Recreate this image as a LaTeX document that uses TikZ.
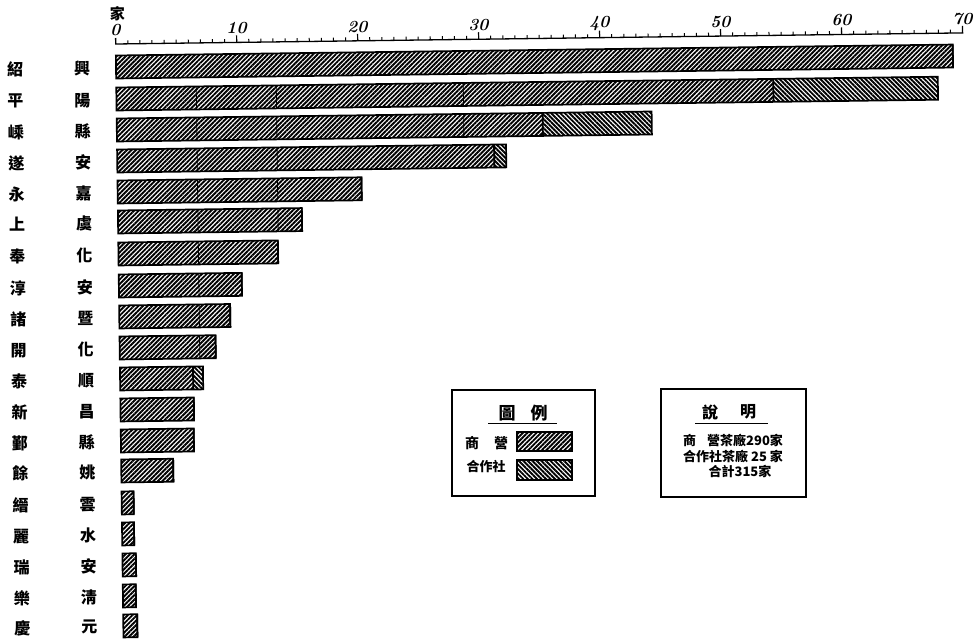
\documentclass[tikz,border=0pt]{standalone}
\usepackage{fontspec}
\newfontfamily\cjk{Noto Sans CJK TC}
\usetikzlibrary{patterns.meta}
\begin{document}
\begin{tikzpicture}[x=1pt,y=-1pt,
  com/.style={pattern={Lines[angle=45,distance=3.2pt,line width=1.9pt]}},
  coop/.style={pattern={Lines[angle=-45,distance=3.2pt,line width=1.9pt]}},
  barline/.style={line width=1.7pt},
  guide/.style={line width=0.8pt},
  boxline/.style={line width=1.3pt},
  lab/.style={font=\cjk\bfseries\fontsize{16}{16}\selectfont, inner sep=0pt},
  leg/.style={font=\cjk\bfseries\fontsize{14}{14}\selectfont, inner sep=0pt},
  small/.style={font=\cjk\bfseries\fontsize{13}{13}\selectfont, inner sep=0pt},
  ttl/.style={font=\cjk\bfseries\fontsize{17}{17}\selectfont, inner sep=0pt},
  num/.style={font=\bfseries\itshape\fontsize{17}{17}\selectfont, inner sep=0pt}]
\useasboundingbox (0,0) rectangle (975,639);
\fill[white] (0,0) rectangle (975,639);

\begin{scope}[rotate around={0.75:(116,67)}]
  % axis
  \draw[line width=1.3pt] (116,38) -- (116,44) -- (963,44) -- (963,37);
  \foreach \i in {1,...,69} {\draw[line width=1pt] (116+12.1*\i,44) -- ++(0,-3.5);}
  \foreach \v in {10,20,...,60} {\draw[line width=1.2pt] (116+12.1*\v,44) -- ++(0,-7);}
  \foreach \v in {0,10,...,70} {\node[num] (n\v) at (116+12.1*\v,30) {\v};}
  \node[font=\cjk\bfseries\fontsize{15}{15}\selectfont, inner sep=0pt] (unit) at (118,14) {家};

  % bars: y / split / right end
  \foreach \y/\xs/\xr in {67/953/953, 99/773/937.6, 130/542/651, 161/493/505,
      192/360/360, 222/300/300, 254/275.6/275.6, 286/239/239, 317/227/227,
      348/212/212, 379/189/199, 410/189.5/189.5, 441/189/189, 471/168/168,
      503/128/128, 534/128/128, 565/129.5/129.5, 596/129/129, 626/130/130} {
    \path[com] (116,\y-11.5) rectangle (\xs,\y+11.5);
    \path[coop] (\xs,\y-11.5) rectangle (\xr,\y+11.5);
    \draw[barline] (116,\y-11.5) rectangle (\xr,\y+11.5);
    \draw[barline] (\xs,\y-11.5) -- (\xs,\y+11.5);
  }
  % faint internal guide lines
  \foreach \y in {99,130,161,192,222,254,286,317,348} {\draw[guide] (196,\y-11.5) -- (196,\y+11.5);}
  \foreach \y in {99,130,161,192,222} {\draw[guide] (276,\y-11.5) -- (276,\y+11.5);}
  \foreach \y in {99,130} {\draw[guide] (463,\y-11.5) -- (463,\y+11.5);}

  % row labels
  \foreach \y/\a/\b [count=\k] in {67/紹/興, 99/平/陽, 130/嵊/縣, 161/遂/安, 192/永/嘉,
      222/上/虞, 254/奉/化, 286/淳/安, 317/諸/暨, 348/開/化, 379/泰/順,
      410/新/昌, 441/鄞/縣, 471/餘/姚, 503/縉/雲, 534/麗/水, 565/瑞/安,
      596/樂/淸, 626/慶/元} {
    \node[lab] (la\k) at (15,\y+1) {\a};
    \node[lab] (lb\k) at (82,\y+1) {\b};
  }
\end{scope}

% legend box
\draw[boxline] (452,390) rectangle (595,496);
\node[ttl] (t1) at (507,413) {圖};
\node[ttl] (t2) at (539,413) {例};
\draw[line width=1pt] (488,423) -- (557,423);
\node[leg] (s1) at (472,443) {商};
\node[leg] (s2) at (501,443) {營};
\path[com] (517,432) rectangle (572,451);
\draw[boxline] (517,432) rectangle (572,451);
\node[small] (c1) at (486,467) {合作社};
\path[coop] (517,460) rectangle (572,480);
\draw[boxline] (517,460) rectangle (572,480);

% explanation box
\draw[boxline] (661,389) rectangle (806,497);
\node[font=\cjk\bfseries\fontsize{16}{16}\selectfont, inner sep=0pt] (e1) at (710,412) {說};
\node[font=\cjk\bfseries\fontsize{16}{16}\selectfont, inner sep=0pt] (e2) at (748,412) {明};
\draw[line width=1pt] (695,423) -- (768,423);
\node[small, anchor=west] (l1) at (683,440) {商\hspace{11pt}營茶廠290家};
\node[small, anchor=west] (l2) at (683,457) {合作社茶廠 25 家};
\node[small] (l3) at (740,471) {合計315家};
\end{tikzpicture}
\end{document}
